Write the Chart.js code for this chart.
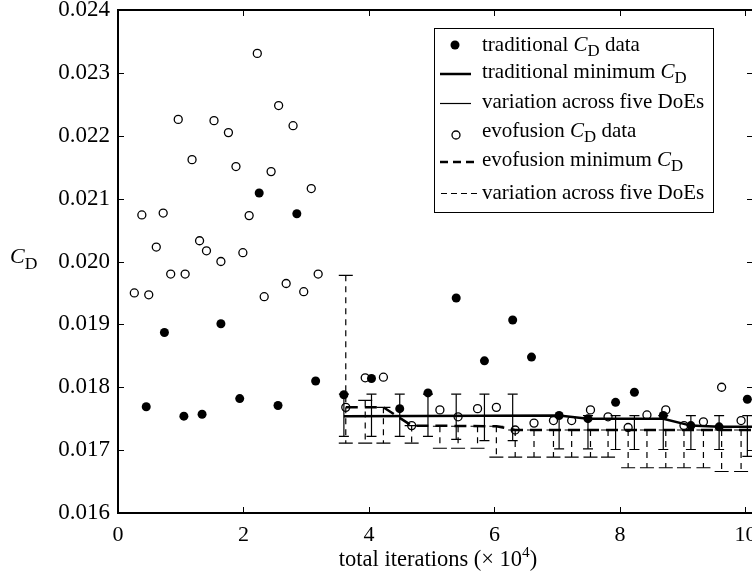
<!DOCTYPE html>
<html>
<head>
<meta charset="utf-8">
<script src="https://cdn.jsdelivr.net/npm/chart.js@4.4.1/dist/chart.umd.min.js"></script>
<style>
html, body { margin: 0; padding: 0; background: #fff; overflow: hidden; }
#wrap { width: 752px; height: 574px; overflow: hidden; }
</style>
</head>
<body>
<div id="wrap"><canvas id="c" width="770" height="574"></canvas></div>
<script>
// traditional C_D samples
const tradX = [0.45, 0.74, 1.05, 1.34, 1.64, 1.94, 2.25, 2.55, 2.85, 3.15, 3.60, 4.04, 4.49, 4.94, 5.39, 5.84, 6.29, 6.59, 7.03, 7.49, 7.93, 8.23, 8.69, 9.13, 9.58, 10.03];
const tradY = [0.01769, 0.01887, 0.01754, 0.01757, 0.01901, 0.01782, 0.02109, 0.01771, 0.02076, 0.01810, 0.01788, 0.01814, 0.01766, 0.01791, 0.01942, 0.01842, 0.01907, 0.01848, 0.01755, 0.01750, 0.01776, 0.01792, 0.01755, 0.01739, 0.01737, 0.01781];

// evofusion C_D samples
const evoX = [0.26, 0.38, 0.49, 0.61, 0.72, 0.84, 0.96, 1.07, 1.18, 1.30, 1.41, 1.53, 1.64, 1.76, 1.88, 1.99, 2.09, 2.22, 2.33, 2.44, 2.56, 2.68, 2.79, 2.96, 3.08, 3.19,
              3.63, 3.94, 4.23, 4.68, 5.13, 5.42, 5.73, 6.03, 6.33, 6.63, 6.94, 7.23, 7.53, 7.81, 8.13, 8.43, 8.73, 9.02, 9.33, 9.62, 9.93];
const evoY = [0.01950, 0.02074, 0.01947, 0.02023, 0.02077, 0.01980, 0.02226, 0.01980, 0.02162, 0.02033, 0.02017, 0.02224, 0.02000, 0.02205, 0.02151, 0.02014, 0.02073, 0.02331, 0.01944, 0.02143, 0.02248, 0.01965, 0.02216, 0.01952, 0.02116, 0.01980,
              0.01768, 0.01815, 0.01816, 0.01739, 0.01764, 0.01753, 0.01766, 0.01768, 0.01732, 0.01743, 0.01747, 0.01747, 0.01764, 0.01753, 0.01736, 0.01756, 0.01764, 0.01739, 0.01745, 0.01800, 0.01747];

// minimum C_D curves
const tradMinX = [3.60, 7.03, 7.49, 8.69, 9.13, 9.58, 10.12];
const tradMinY = [0.01754, 0.01755, 0.01750, 0.01750, 0.01739, 0.01737, 0.01737];
const evoMinX = [3.63, 4.23, 4.68, 6.03, 6.33, 10.12];
const evoMinY = [0.01768, 0.01768, 0.01739, 0.01738, 0.01732, 0.01732];

// variation across five DoEs (low / high)
const tradBarX  = [3.60, 4.04, 4.49, 4.94, 5.39, 5.84, 6.29, 7.03, 7.49, 7.93, 8.23, 8.69, 9.13, 9.58, 10.03];
const tradBarLo = [0.01722, 0.01722, 0.01722, 0.01722, 0.01717, 0.01715, 0.01715, 0.01702, 0.01702, 0.01701, 0.01701, 0.01701, 0.01701, 0.01701, 0.01690];
const tradBarHi = [0.01789, 0.01789, 0.01789, 0.01789, 0.01789, 0.01789, 0.01789, 0.01755, 0.01755, 0.01755, 0.01755, 0.01755, 0.01755, 0.01755, 0.01755];
const evoBarX  = [3.63, 3.94, 4.23, 4.68, 5.13, 5.42, 5.73, 6.03, 6.33, 6.63, 6.94, 7.23, 7.53, 7.81, 8.13, 8.43, 8.73, 9.02, 9.33, 9.62, 9.93];
const evoBarLo = [0.01711, 0.01711, 0.01711, 0.01711, 0.01703, 0.01703, 0.01703, 0.01689, 0.01689, 0.01689, 0.01689, 0.01689, 0.01689, 0.01689, 0.01672, 0.01672, 0.01672, 0.01672, 0.01672, 0.01666, 0.01666];
const evoBarHi = [0.01978, 0.01779, 0.01768, 0.01739, 0.01738, 0.01738, 0.01738, 0.01738, 0.01732, 0.01732, 0.01732, 0.01732, 0.01732, 0.01732, 0.01732, 0.01732, 0.01732, 0.01732, 0.01732, 0.01732, 0.01732];

const FONT = "'Liberation Serif', 'Times New Roman', serif";

const pts = (xs, ys) => xs.map((x, i) => ({ x: x, y: ys[i] }));

// error bars, drawn under the points
const errorBars = {
    id: 'errorBars',
    beforeDatasetsDraw(chart) {
        const { ctx, chartArea: a, scales: { x, y } } = chart;
        ctx.save();
        ctx.beginPath();
        ctx.rect(a.left, a.top, a.right - a.left, a.bottom - a.top);
        ctx.clip();
        ctx.strokeStyle = '#000';
        ctx.lineWidth = 1.2;
        const bars = (xs, lo, hi, half, dash) => {
            xs.forEach((v, i) => {
                const px = x.getPixelForValue(v);
                const pl = y.getPixelForValue(lo[i]);
                const ph = y.getPixelForValue(hi[i]);
                ctx.setLineDash(dash);
                ctx.beginPath();
                ctx.moveTo(px, ph); ctx.lineTo(px, pl);
                ctx.stroke();
                ctx.setLineDash([]);
                ctx.beginPath();
                ctx.moveTo(px - half, ph); ctx.lineTo(px + half, ph);
                ctx.moveTo(px - half, pl); ctx.lineTo(px + half, pl);
                ctx.stroke();
            });
        };
        bars(tradBarX, tradBarLo, tradBarHi, 5, []);
        bars(evoBarX, evoBarLo, evoBarHi, 7, [6, 5]);
        ctx.restore();
    }
};

// frame + inward ticks on all four sides
const frame = {
    id: 'frame',
    afterDatasetsDraw(chart) {
        const { ctx, chartArea: a, scales: { x, y } } = chart;
        ctx.save();
        ctx.strokeStyle = '#000';
        ctx.lineWidth = 1;
        ctx.beginPath();
        x.ticks.forEach(t => {
            const px = Math.round(x.getPixelForValue(t.value)) + 0.5;
            ctx.moveTo(px, a.bottom); ctx.lineTo(px, a.bottom - 6);
            ctx.moveTo(px, a.top); ctx.lineTo(px, a.top + 6);
        });
        y.ticks.forEach(t => {
            const py = Math.round(y.getPixelForValue(t.value)) + 0.5;
            ctx.moveTo(a.left, py); ctx.lineTo(a.left + 6, py);
            ctx.moveTo(a.right, py); ctx.lineTo(a.right - 6, py);
        });
        ctx.stroke();
        ctx.lineWidth = 2;
        ctx.strokeRect(a.left, a.top, a.right - a.left, a.bottom - a.top);
        ctx.restore();
    }
};

// text with italic C, subscript D, superscript 4
function richText(ctx, parts, x, base, size) {
    parts.forEach(p => {
        let s = size, dy = 0, st = '';
        if (p.i) st = 'italic ';
        if (p.sub) { s = size * 0.8; dy = size * 0.25; }
        if (p.sup) { s = size * 0.68; dy = -size * 0.42; }
        ctx.font = st + s + 'px ' + FONT;
        ctx.fillText(p.t, x, base + dy);
        x += ctx.measureText(p.t).width;
    });
}
function richWidth(ctx, parts, size) {
    let w = 0;
    parts.forEach(p => {
        let s = size, st = '';
        if (p.i) st = 'italic ';
        if (p.sub) s = size * 0.8;
        if (p.sup) s = size * 0.68;
        ctx.font = st + s + 'px ' + FONT;
        w += ctx.measureText(p.t).width;
    });
    return w;
}

const legendRows = [
    { base: 50.5, parts: [{ t: 'traditional ' }, { t: 'C', i: true }, { t: 'D', sub: true }, { t: ' data' }] },
    { base: 78, parts: [{ t: 'traditional minimum ' }, { t: 'C', i: true }, { t: 'D', sub: true }] },
    { base: 108, parts: [{ t: 'variation across five DoEs' }] },
    { base: 136.5, parts: [{ t: 'evofusion ' }, { t: 'C', i: true }, { t: 'D', sub: true }, { t: ' data' }] },
    { base: 166, parts: [{ t: 'evofusion minimum ' }, { t: 'C', i: true }, { t: 'D', sub: true }] },
    { base: 199, parts: [{ t: 'variation across five DoEs' }] }
];

const xTitle = [{ t: 'total iterations (\u00d7 10' }, { t: '4', sup: true }, { t: ')' }];

const legendBox = {
    id: 'legendBox',
    afterDraw(chart) {
        const ctx = chart.ctx;
        const a = chart.chartArea;
        ctx.save();
        ctx.fillStyle = '#fff';
        ctx.fillRect(434, 28, 279, 184);
        ctx.strokeStyle = '#000';
        ctx.lineWidth = 1;
        ctx.strokeRect(434.5, 28.5, 279, 184);
        ctx.fillStyle = '#000';
        ctx.textBaseline = 'alphabetic';
        ctx.textAlign = 'left';
        legendRows.forEach(r => richText(ctx, r.parts, 482, r.base, 21));

        // symbols
        ctx.beginPath(); ctx.arc(455, 45, 4.5, 0, Math.PI * 2); ctx.fill();
        ctx.lineWidth = 2.5;
        ctx.beginPath(); ctx.moveTo(440, 74); ctx.lineTo(471, 74); ctx.stroke();
        ctx.lineWidth = 1.2;
        ctx.beginPath(); ctx.moveTo(440, 103.5); ctx.lineTo(471, 103.5); ctx.stroke();
        ctx.lineWidth = 1.3;
        ctx.beginPath(); ctx.arc(456, 135, 4, 0, Math.PI * 2); ctx.stroke();
        ctx.lineWidth = 2.5;
        ctx.setLineDash([8, 5]);
        ctx.beginPath(); ctx.moveTo(440, 162); ctx.lineTo(478, 162); ctx.stroke();
        ctx.lineWidth = 1.2;
        ctx.setLineDash([6, 4]);
        ctx.beginPath(); ctx.moveTo(441, 193.5); ctx.lineTo(479, 193.5); ctx.stroke();
        ctx.setLineDash([]);

        // axis titles
        richText(ctx, [{ t: 'C', i: true }, { t: 'D', sub: true }], 10, 263, 22);
        const w = richWidth(ctx, xTitle, 22.5);
        richText(ctx, xTitle, 438 - w / 2, 566, 22.5);
        ctx.restore();
    }
};

new Chart(document.getElementById('c'), {
    type: 'scatter',
    data: {
        datasets: [
            { data: pts(tradX, tradY), pointRadius: 4.5, pointBackgroundColor: '#000', pointBorderWidth: 0, order: 1 },
            { data: pts(evoX, evoY), pointRadius: 4, pointBackgroundColor: 'rgba(0,0,0,0)', pointBorderColor: '#000', pointBorderWidth: 1.3, order: 2 },
            { data: pts(tradMinX, tradMinY), showLine: true, pointRadius: 0, borderColor: '#000', borderWidth: 2.5, order: 3 },
            { data: pts(evoMinX, evoMinY), showLine: true, pointRadius: 0, borderColor: '#000', borderWidth: 2.5, borderDash: [12, 7], order: 4 }
        ]
    },
    options: {
        responsive: false,
        animation: false,
        devicePixelRatio: 1,
        layout: { padding: { top: 10, right: 17, left: 0, bottom: 0 } },
        plugins: { legend: { display: false }, tooltip: { enabled: false } },
        scales: {
            x: {
                type: 'linear', min: 0, max: 10.12,
                afterFit: s => { s.height = 61; s.paddingLeft = 0; s.paddingRight = 0; },
                grid: { display: false, drawTicks: false },
                border: { display: false },
                ticks: { stepSize: 2, includeBounds: false, padding: 9, maxRotation: 0, color: '#000', font: { family: FONT, size: 22 } }
            },
            y: {
                min: 0.016, max: 0.024,
                afterFit: s => { s.width = 118; s.paddingTop = 0; s.paddingBottom = 0; },
                grid: { display: false, drawTicks: false },
                border: { display: false },
                ticks: { stepSize: 0.001, padding: 8, color: '#000', font: { family: FONT, size: 23 }, callback: v => v.toFixed(3) }
            }
        }
    },
    plugins: [errorBars, frame, legendBox]
});
</script>
</body>
</html>
